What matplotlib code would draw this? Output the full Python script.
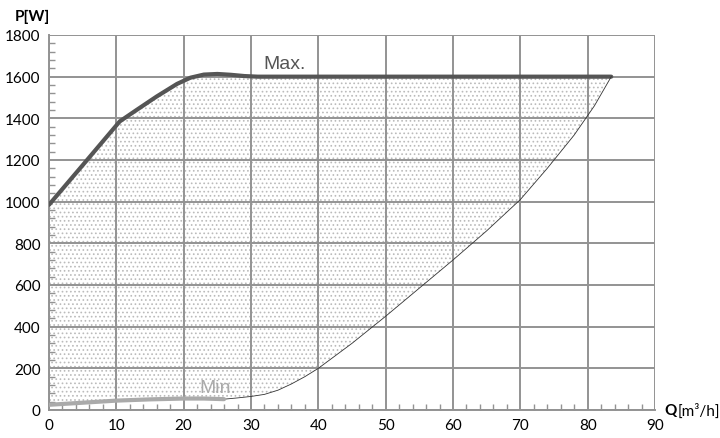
import matplotlib
matplotlib.use("Agg")
import matplotlib.pyplot as plt
import numpy as np
from matplotlib.ticker import MultipleLocator

plt.rcParams['font.family'] = ['Lato', 'DejaVu Sans']
plt.rcParams['hatch.linewidth'] = 0.7

max_q = [0, 5, 10.5, 13, 16, 19, 21, 23, 25, 27, 29, 31, 83.5]
max_p = [985, 1175, 1385, 1440, 1505, 1565, 1595, 1610, 1613, 1609, 1603, 1600, 1600]

min_q = [0, 5, 10, 15, 20, 23, 26]
min_p = [25, 35, 45, 51, 55, 55, 52]

low_q = [26, 28, 30, 32, 34, 36, 38, 40, 45, 50, 55, 60, 65, 70, 74, 78, 81, 83.5]
low_p = [52, 58, 65, 75, 95, 125, 160, 200, 320, 450, 585, 720, 860, 1010, 1160, 1320, 1460, 1600]

x_ticks = [0, 10, 20, 30, 40, 50, 60, 70, 80, 90]
y_ticks = [0, 200, 400, 600, 800, 1000, 1200, 1400, 1600, 1800]

fig = plt.figure(figsize=(7.2, 4.39), dpi=100)
ax = fig.add_axes([49/720, 28/439, 606/720, 375/439])

# fill region
poly_x = list(max_q) + list(low_q[::-1]) + list(min_q[::-1])
poly_y = list(max_p) + list(low_p[::-1]) + list(min_p[::-1])
ax.fill(poly_x, poly_y, facecolor='white', edgecolor='#bbbbbb', hatch='....', linewidth=0, zorder=1)

ax.plot(max_q, max_p, color='#555555', lw=3, zorder=4, solid_capstyle='round')
ax.plot(low_q, low_p, color='#333333', lw=0.6, zorder=4)
ax.plot(min_q, min_p, color='#aaaaaa', lw=3, zorder=4, solid_capstyle='round')

ax.set_xlim(0, 90)
ax.set_ylim(0, 1800)
ax.set_xticks(x_ticks)
ax.set_yticks(y_ticks)
ax.xaxis.set_minor_locator(MultipleLocator(2))
ax.yaxis.set_minor_locator(MultipleLocator(40))
ax.grid(True, which='major', color='#939393', lw=1.4, zorder=2)
ax.set_axisbelow(False)
for s in ['top', 'right']:
    ax.spines[s].set_visible(False)
for s in ['left', 'bottom']:
    ax.spines[s].set_color('#939393')
    ax.spines[s].set_linewidth(1.4)
ax.tick_params(which='major', direction='in', length=0, labelsize=11, colors='#939393', labelcolor='black', pad=6)
ax.tick_params(which='minor', direction='in', length=4, width=1, colors='#939393')

ax.text(35, 1640, 'Max.', fontsize=14, color='#555555', ha='center', va='baseline', zorder=5,
        family='Liberation Sans')
ax.text(25, 88, 'Min.', fontsize=14, color='#aaaaaa', ha='center', va='baseline', zorder=5,
        family='Liberation Sans')

fig.text(15/720, 1 - 17/439, 'P[W]', fontsize=11, fontweight='bold', ha='left', va='center')
fig.text(664/720, 1 - 411/439, 'Q', fontsize=11, fontweight='bold', ha='left', va='center')
fig.text(678/720, 1 - 411/439, '[m³/h]', fontsize=11, ha='left', va='center')

fig.savefig('out.png', dpi=100)
